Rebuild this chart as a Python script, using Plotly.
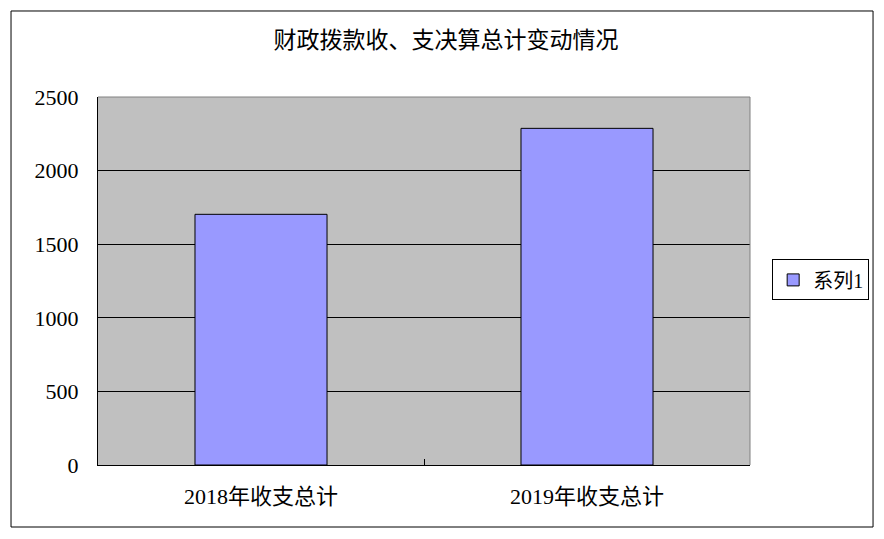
import plotly.graph_objects as go

categories = ["2018年收支总计", "2019年收支总计"]
values = [1703, 2287]
series_name = "系列1"
title_text = "财政拨款收、支决算总计变动情况"
y_ticks = [0, 500, 1000, 1500, 2000, 2500]

FONT = "Liberation Serif, Noto Sans CJK SC, serif"

fig = go.Figure()
fig.add_trace(go.Bar(
    x=categories, y=values, name=series_name,
    marker=dict(color="#9999FF", line=dict(color="black", width=1)),
    width=0.405, showlegend=True,
))

fig.update_layout(
    width=876, height=531,
    margin=dict(l=90, r=134, t=89, b=74),
    paper_bgcolor="white",
    plot_bgcolor="#C0C0C0",
    font=dict(family=FONT, size=22, color="black"),
    title=dict(text=title_text, x=0.5, xanchor="center", xref="container",
               y=1 - 32 / 531, yref="container", yanchor="middle",
               font=dict(family=FONT, size=23, color="black")),
    legend=dict(x=1.034, y=0.503, xanchor="left", yanchor="middle",
                bordercolor="black", borderwidth=1, bgcolor="white",
                itemwidth=30,
                font=dict(family=FONT, size=20)),
    showlegend=True,
)
fig.update_yaxes(range=[0, 2500], tickvals=y_ticks, showgrid=True,
                 gridcolor="black", gridwidth=1, showline=True,
                 linecolor="black", linewidth=1, zeroline=False,
                 ticks="", ticklabelstandoff=14, fixedrange=True)
fig.update_xaxes(showline=True, linecolor="black", linewidth=1,
                 ticks="inside", tickson="boundaries", ticklen=6,
                 tickcolor="black", ticklabelstandoff=12, fixedrange=True)

# gray top & right border of plot area
fig.add_shape(type="line", xref="paper", yref="paper", x0=0, x1=1, y0=1, y1=1,
              line=dict(color="#808080", width=1))
fig.add_shape(type="line", xref="paper", yref="paper", x0=1, x1=1, y0=0, y1=1,
              line=dict(color="#808080", width=1))
# outer chart border
fig.add_shape(type="rect", xref="paper", yref="paper",
              x0=-0.1334, x1=1.1887, y0=-0.1685, y1=1.2337,
              line=dict(color="black", width=1), fillcolor="rgba(0,0,0,0)")

fig.write_html("out.html")
